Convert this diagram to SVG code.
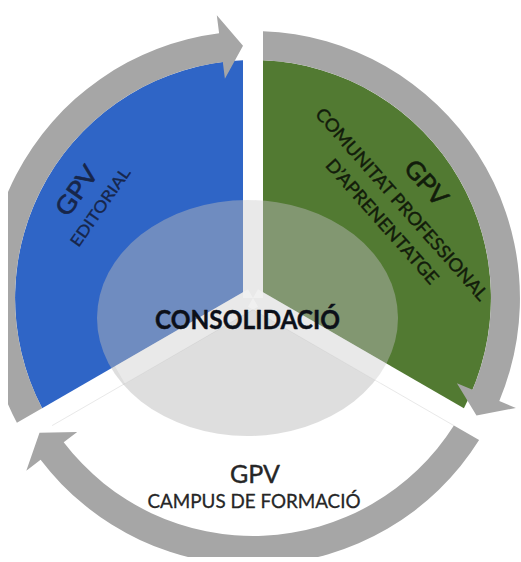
<svg xmlns="http://www.w3.org/2000/svg" width="521" height="562" viewBox="0 0 521 562">
  <defs>
    <style>
      .txt { font-family: Lato, "Open Sans", "Liberation Sans", sans-serif; stroke-linejoin: round; }
      .arrow { fill: #a6a6a6; }
      .gap { stroke: #ffffff; stroke-width: 20; stroke-opacity: 0.35; fill: none; }
    </style>
    <clipPath id="frame"><rect x="8" y="0" width="513" height="557"/></clipPath>
  </defs>
  <rect x="0" y="0" width="521" height="562" fill="#ffffff"/>
  <g clip-path="url(#frame)">
    <g id="node-editorial">
      <path d="M243 292.2 L243 60.2 A238 238 0 0 0 42.1 408.2 Z" fill="#2f65c6"/>
    </g>
    <g id="node-comunitat">
      <path d="M263 292.2 L263 60.2 A238 238 0 0 1 463.9 408.2 Z" fill="#527a32"/>
    </g>
    <g id="node-campus">
      <path d="M253 309.6 L453.9 425.6 A238 238 0 0 1 52.1 425.6 Z" fill="#ffffff"/>
      <path d="M453.9 425.6 L253 309.6 L52.1 425.6" fill="none" stroke="#d2d2d2" stroke-width="1" stroke-opacity="0.5"/>
    </g>
    <g id="connectors">
      <path class="arrow" d="M42.1 408.2 A238 238 0 0 1 222.8 61.9 L224.9 78.8 L243 45.7 L216.8 15.3 L219.1 33.2 A267 267 0 0 0 16.9 422.7 Z"/>
      <path class="arrow" d="M263 60.2 A238 238 0 0 1 472.6 389.8 L456.9 383.3 L476.5 415.5 L515.9 408 L499.3 401 A267 267 0 0 0 263 31.2 Z"/>
      <path class="arrow" d="M453.9 425.6 A238 238 0 0 1 63.7 442.2 L77.2 431.9 L39.5 432.8 L26.3 470.7 L40.6 459.8 A267 267 0 0 0 479.1 440.1 Z"/>
    </g>
    <g id="node-consolidacio">
      <ellipse cx="247.5" cy="318" rx="150.5" ry="118" fill="#b9b9b9" fill-opacity="0.47"/>
      <path class="gap" d="M253 298 L253 200"/>
      <path class="gap" d="M253 298 L120 375"/>
      <path class="gap" d="M253 298 L386 375"/>
      <text class="txt" x="247.5" y="329" font-size="26" font-weight="bold" fill="#0c1019" stroke="#0c1019" stroke-width="0.4" text-anchor="middle" textLength="185" lengthAdjust="spacingAndGlyphs">CONSOLIDACIÓ</text>
    </g>
  </g>
  <g id="label-editorial" transform="translate(100 207) rotate(-55)" fill="#17264a" stroke="#17264a">
    <text class="txt" x="0" y="-19.8" font-size="25" stroke-width="0.6" text-anchor="middle" textLength="55" lengthAdjust="spacingAndGlyphs">GPV</text>
    <text class="txt" x="0" y="5.8" font-size="16" stroke-width="0.3" text-anchor="middle" textLength="92" lengthAdjust="spacingAndGlyphs">EDITORIAL</text>
  </g>
  <g id="label-comunitat" transform="translate(402 204) rotate(48.5)" fill="#121c0b" stroke="#121c0b">
    <text class="txt" x="0" y="-23.6" font-size="25" stroke-width="0.6" text-anchor="middle" textLength="52" lengthAdjust="spacingAndGlyphs">GPV</text>
    <text class="txt" x="0" y="6.5" font-size="18" stroke-width="0.4" text-anchor="middle" textLength="250" lengthAdjust="spacingAndGlyphs">COMUNITAT PROFESSIONAL</text>
    <text class="txt" x="0" y="32.7" font-size="18" stroke-width="0.4" text-anchor="middle" textLength="160" lengthAdjust="spacingAndGlyphs">D’APRENENTATGE</text>
  </g>
  <g id="label-campus" fill="#262626" stroke="#262626">
    <text class="txt" x="255" y="483" font-size="25" stroke-width="0.4" text-anchor="middle" textLength="50" lengthAdjust="spacingAndGlyphs">GPV</text>
    <text class="txt" x="254" y="508" font-size="19" stroke-width="0.3" text-anchor="middle" textLength="213" lengthAdjust="spacingAndGlyphs">CAMPUS DE FORMACIÓ</text>
  </g>
</svg>
